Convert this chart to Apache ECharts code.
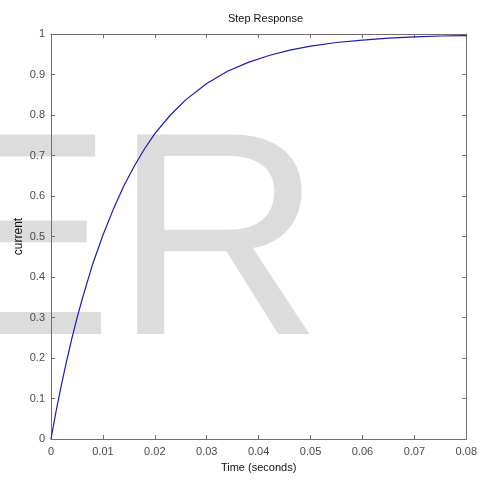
<!DOCTYPE html>
<html>
<head>
<meta charset="utf-8">
<script src="https://cdn.jsdelivr.net/npm/echarts@6/dist/echarts.min.js"></script>
<style>html,body{margin:0;padding:0;background:#fff;}#c{width:480px;height:482px;}</style>
</head>
<body>
<div id="c"></div>
<script>
// Data
var timeValues = [0, 0.001, 0.002, 0.003, 0.004, 0.005, 0.006, 0.008, 0.010, 0.012, 0.014, 0.016, 0.018, 0.020, 0.023, 0.026, 0.030, 0.034, 0.038, 0.042, 0.046, 0.050, 0.055, 0.060, 0.065, 0.070, 0.075, 0.080];
var currentValues = [0, 0.070, 0.133, 0.192, 0.247, 0.298, 0.345, 0.431, 0.503, 0.567, 0.624, 0.673, 0.716, 0.754, 0.800, 0.838, 0.878, 0.908, 0.930, 0.947, 0.960, 0.970, 0.979, 0.985, 0.990, 0.993, 0.995, 0.996];
var titleText = 'Step Response';
var xAxisName = 'Time (seconds)';
var yAxisName = 'current';
var watermarkText = 'ER';

var points = timeValues.map(function (t, i) { return [t, currentValues[i]]; });

var chart = echarts.init(document.getElementById('c'), null, {renderer: 'canvas'});
var axisColor = '#6e6e6e';
var labelColor = '#4a4a4a';
var font = 'Liberation Sans, Arial, sans-serif';

function xAx(pos, show) {
  return {
    type: 'value', position: pos, min: 0, max: 0.08, interval: 0.01,
    axisLine: {show: true, onZero: false, lineStyle: {color: axisColor, width: 1}},
    axisTick: {show: true, inside: true, length: 4, lineStyle: {color: axisColor}},
    axisLabel: {show: show, color: labelColor, fontFamily: font, fontSize: 11, margin: 7},
    splitLine: {show: false},
    name: show ? xAxisName : '', nameLocation: 'middle', nameGap: 23, nameMoveOverlap: false,
    nameTextStyle: {color: '#111', fontFamily: font, fontSize: 11}
  };
}
function yAx(pos, show) {
  return {
    type: 'value', position: pos, min: 0, max: 1, interval: 0.1,
    axisLine: {show: true, onZero: false, lineStyle: {color: axisColor, width: 1}},
    axisTick: {show: true, inside: true, length: 4, lineStyle: {color: axisColor}},
    axisLabel: {show: show, color: labelColor, fontFamily: font, fontSize: 11, margin: 6},
    splitLine: {show: false},
    name: show ? yAxisName : '', nameLocation: 'middle', nameGap: 26, nameMoveOverlap: false,
    nameTextStyle: {color: '#111', fontFamily: font, fontSize: 12}
  };
}

chart.setOption({
  backgroundColor: '#ffffff',
  animation: false,
  title: {
    text: titleText, left: 260.5, top: 8, textAlign: 'center',
    textStyle: {color: '#111', fontFamily: font, fontSize: 11, fontWeight: 'normal'}
  },
  grid: {left: 51, right: 10, top: 34, bottom: 43, containLabel: false},
  xAxis: [xAx('bottom', true), xAx('top', false)],
  yAxis: [yAx('left', true), yAx('right', false)],
  graphic: [{
    type: 'text', z: -10, zlevel: 0, silent: true,
    left: -80, top: 109,
    style: {text: watermarkText, fill: '#dcdcdc', font: '290px Liberation Sans, Arial, sans-serif'}
  }],
  series: [{
    type: 'line', xAxisIndex: 0, yAxisIndex: 0, data: points,
    showSymbol: false, symbol: 'none', smooth: false,
    lineStyle: {color: '#1c1cb4', width: 1.2}, z: 5
  }]
});
</script>
</body>
</html>
